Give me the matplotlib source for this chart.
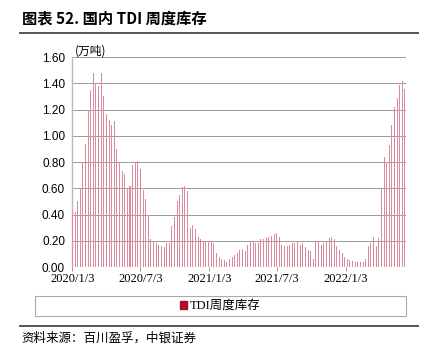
import datetime as dt
import matplotlib
matplotlib.use("Agg")
import matplotlib.pyplot as plt
import matplotlib.dates as mdates
from matplotlib.patches import Rectangle
from matplotlib.lines import Line2D

# weekly TDI inventory (万吨), first week 2020/1/3
start = dt.date(2020, 1, 3)
stock = [
    0.42, 0.42, 0.50, 0.60, 0.80, 0.94, 1.20, 1.35, 1.48, 1.40,
    1.38, 1.48, 1.30, 1.17, 1.12, 1.08, 1.11, 0.90, 0.80, 0.73,
    0.71, 0.60, 0.62, 0.78, 0.79, 0.81, 0.75, 0.59, 0.52, 0.40,
    0.21, 0.19, 0.18, 0.17, 0.16, 0.15, 0.18, 0.18, 0.31, 0.38,
    0.50, 0.55, 0.61, 0.62, 0.58, 0.30, 0.32, 0.29, 0.23, 0.21,
    0.20, 0.19, 0.20, 0.20, 0.18, 0.11, 0.08, 0.06, 0.05, 0.04,
    0.06, 0.08, 0.09, 0.11, 0.13, 0.14, 0.12, 0.17, 0.20, 0.20,
    0.18, 0.18, 0.21, 0.21, 0.22, 0.23, 0.24, 0.25, 0.26, 0.23,
    0.17, 0.16, 0.16, 0.17, 0.18, 0.18, 0.20, 0.17, 0.18, 0.15,
    0.13, 0.12, 0.06, 0.20, 0.20, 0.17, 0.18, 0.20, 0.22, 0.23,
    0.21, 0.16, 0.13, 0.11, 0.08, 0.06, 0.05, 0.045, 0.04, 0.04,
    0.04, 0.04, 0.06, 0.16, 0.18, 0.23, 0.16, 0.22, 0.60, 0.84,
    0.80, 0.93, 1.08, 1.22, 1.29, 1.39, 1.42, 1.36,
]
dates = [start + dt.timedelta(days=7 * i) for i in range(len(stock))]

tick_dates = [dt.date(2020, 1, 3), dt.date(2020, 7, 3), dt.date(2021, 1, 3),
              dt.date(2021, 7, 3), dt.date(2022, 1, 3)]
tick_labels = ["2020/1/3", "2020/7/3", "2021/1/3", "2021/7/3", "2022/1/3"]
y_ticks = [0.0, 0.2, 0.4, 0.6, 0.8, 1.0, 1.2, 1.4, 1.6]

cjk = ["Noto Sans CJK SC", "DejaVu Sans"]
serif_cjk = ["Liberation Serif", "Noto Sans CJK SC"]
bar_color = "#DC8A9C"

fig = plt.figure(figsize=(4.32, 3.57), dpi=100)
ax = fig.add_axes([0.1667, 0.252, 0.7733, 0.588])

ax.bar(dates, stock, width=2.7, color=bar_color, linewidth=0, zorder=3)

ax.set_ylim(0, 1.6)
ax.set_yticks(y_ticks)
ax.set_yticklabels([f"{v:.2f}" for v in y_ticks], family="Liberation Sans", fontsize=8.5)
ax.set_xlim(mdates.date2num(start) - 1, mdates.date2num(dates[-1]) + 3)
ax.set_xticks([mdates.date2num(d) for d in tick_dates])
ax.set_xticklabels(tick_labels, family="Liberation Serif", fontsize=9)
ax.tick_params(axis="y", length=0, pad=5)
ax.tick_params(axis="x", length=3, width=0.6, color="#888888", pad=1.5)

ax.grid(axis="y", color="#8c8c8c", linewidth=0.6, zorder=0)
for side in ["top", "right", "bottom"]:
    ax.spines[side].set_visible(False)
ax.spines["left"].set_color("#bbbbbb")
ax.spines["left"].set_linewidth(1.0)

ax.text(0.01, 1.0, "(万吨)", transform=ax.transAxes, family=cjk, fontsize=8.5,
        style="italic", va="bottom", ha="left")

# title and rules
fig.text(0.05, 0.949, "图表 52. 国内 TDI 周度库存", family=cjk, fontsize=11,
         fontweight="bold", va="center", ha="left")
fig.add_artist(Line2D([0.046, 0.968], [0.9076, 0.9076], color="#555555", linewidth=1.4))
fig.add_artist(Line2D([0.046, 0.968], [0.0868, 0.0868], color="#555555", linewidth=1.4))

# legend box
fig.add_artist(Rectangle((0.081, 0.115), 0.859, 0.056, transform=fig.transFigure,
                         fill=False, edgecolor="#aaaaaa", linewidth=0.8))
handle = Rectangle((0, 0), 1, 1, color="#A8102E")
fig.legend([handle], ["TDI周度库存"], loc="center", bbox_to_anchor=(0.51, 0.143),
           frameon=False, prop={"family": serif_cjk, "size": 9},
           handlelength=0.6, handleheight=0.6, handletextpad=0.2)

fig.text(0.05, 0.053, "资料来源：百川盈孚，中银证券", family=cjk, fontsize=9,
         style="italic", va="center", ha="left")

fig.savefig("out.png", dpi=100)
